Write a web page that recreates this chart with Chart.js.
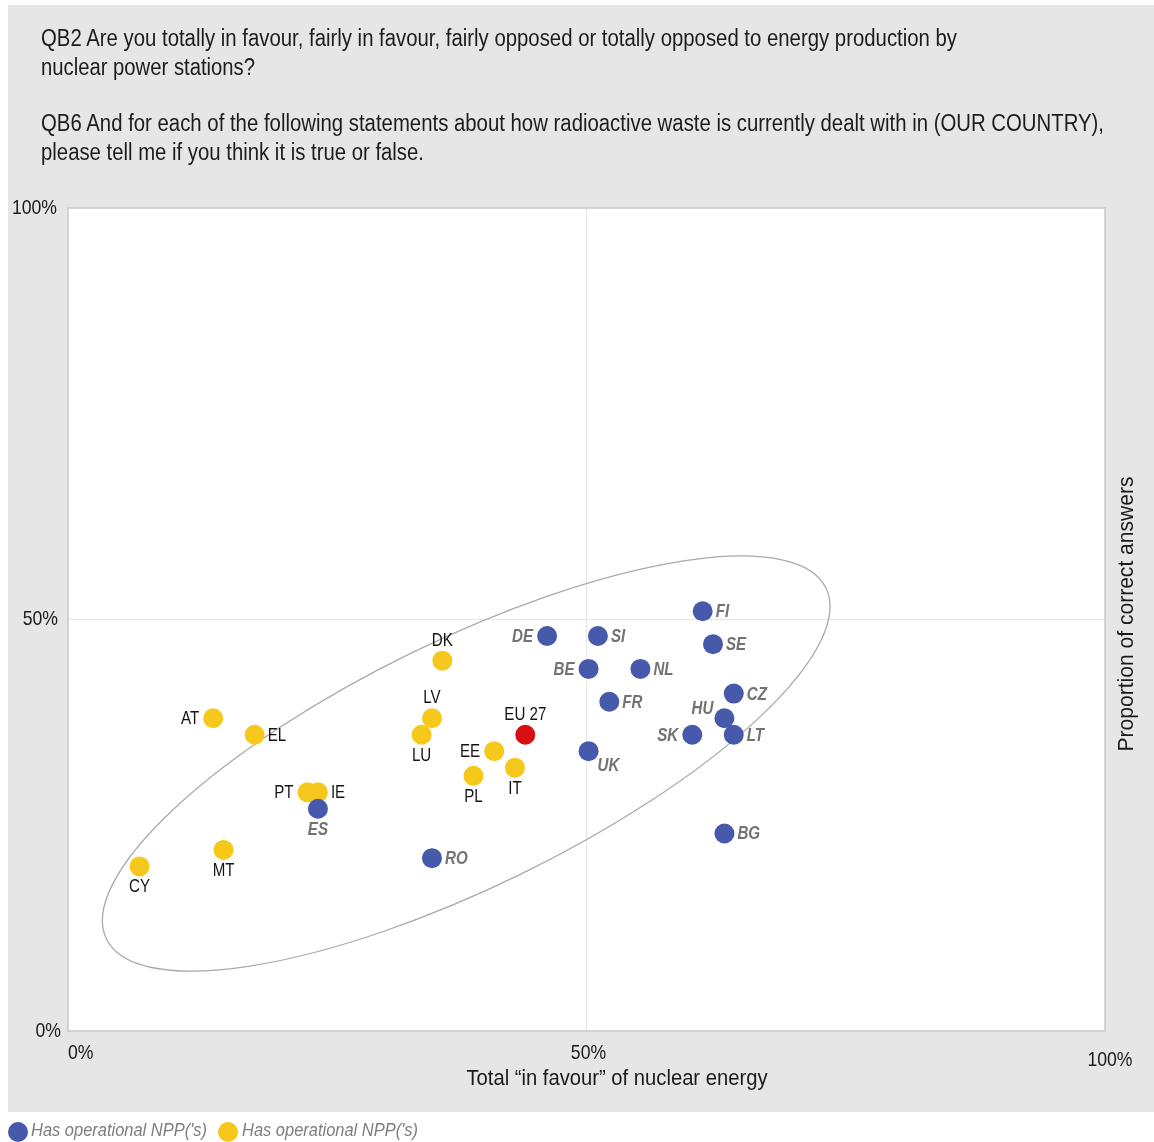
<!DOCTYPE html>
<html>
<head>
<meta charset="utf-8">
<title>Nuclear energy: support vs knowledge</title>
<script src="https://cdn.jsdelivr.net/npm/chart.js@4.4.1/dist/chart.umd.min.js"></script>
<style>
  html, body { margin: 0; padding: 0; background: #fff; }
  body { width: 1154px; height: 1142px; position: relative; overflow: hidden;
         font-family: "Liberation Sans", Arial, sans-serif; }
  #panel { position: absolute; left: 8px; top: 5px; width: 1146px; height: 1107px; background: #e6e6e6; }
  #chart { position: absolute; left: 0; top: 0; }
  .q { position: absolute; left: 41px; font-size: 23px; line-height: 29px; color: #1c1c1c; }
  .q span { display: inline-block; white-space: nowrap; transform-origin: 0 50%; }
  .leg { position: absolute; top: 1119px; height: 24px; }
  .leg i { position: absolute; left: 0; top: 3px; width: 20px; height: 20px; border-radius: 50%; }
  .leg span { position: absolute; top: 0; white-space: nowrap; font-style: italic; font-size: 19px;
              color: #7d7d7d; transform-origin: 0 50%; }
</style>
</head>
<body>
<div id="panel"></div>
<canvas id="chart" width="1154" height="1142"></canvas>

<div class="q" style="top:24px">
  <span data-w="916">QB2 Are you totally in favour, fairly in favour, fairly opposed or totally opposed to energy production by</span><br>
  <span data-w="214">nuclear power stations?</span>
</div>
<div class="q" style="top:109px">
  <span data-w="1063">QB6 And for each of the following statements about how radioactive waste is currently dealt with in (OUR COUNTRY),</span><br>
  <span data-w="383">please tell me if you think it is true or false.</span>
</div>

<div class="leg" style="left:8px"><i style="background:#4659ab"></i><span style="left:23px" data-w="176">Has operational NPP('s)</span></div>
<div class="leg" style="left:218px"><i style="background:#f6c81c"></i><span style="left:24px" data-w="176">Has operational NPP('s)</span></div>

<script>
// ===== DATA =====
// countries with operational nuclear power plants (blue)
const blueCodes   = ['FI', 'SE', 'DE', 'SI', 'BE', 'NL', 'CZ', 'FR', 'HU', 'SK', 'LT', 'UK', 'BG', 'ES', 'RO'];
const blueFavour  = [61.2, 62.2, 46.2, 51.1, 50.2, 55.2, 64.2, 52.2, 63.3, 60.2, 64.2, 50.2, 63.3, 24.1, 35.1];
const blueCorrect = [51, 47, 48, 48, 44, 44, 41, 40, 38, 36, 36, 34, 24, 27, 21];

// other countries (yellow)
const yellowCodes   = ['DK', 'AT', 'EL', 'LV', 'LU', 'EE', 'PL', 'IT', 'PT', 'IE', 'MT', 'CY'];
const yellowFavour  = [36.1, 14.0, 18.0, 35.1, 34.1, 41.1, 39.1, 43.1, 23.1, 24.1, 15.0, 6.9];
const yellowCorrect = [45, 38, 36, 38, 36, 34, 31, 32, 29, 29, 22, 20];

// EU average (red)
const euCodes   = ['EU 27'];
const euFavour  = [44.1];
const euCorrect = [36];

const xTickValues = [0, 50, 100];
const yTickValues = [0, 50, 100];

// =====================================================

// where each label sits next to its dot
const labelSide = {
  FI: 'right', SE: 'right', DE: 'left', SI: 'right', BE: 'left', NL: 'right', CZ: 'right',
  FR: 'right', HU: 'upleft', SK: 'left', LT: 'right', UK: 'downright', BG: 'right',
  ES: 'below', RO: 'right',
  DK: 'above', AT: 'left', EL: 'right', LV: 'above', LU: 'below', EE: 'left', PL: 'below',
  IT: 'below', PT: 'left', IE: 'right', MT: 'below', CY: 'below',
  'EU 27': 'above'
};

// rotated ellipse around the cloud (centre in data units, radii in x-units)
const ELLIPSE = { cx: 38.4, cy: 32.5, rx: 38.6, ry: 11.9, angle: -26.0 };

const FONT = '"Liberation Sans", Arial, sans-serif';
const NARROW = 0.84;

function toPoints(xs, ys, codes) {
  return xs.map((x, i) => ({ x, y: ys[i], code: codes[i] }));
}

// condensed text drawn on the canvas
function drawText(ctx, s, x, y, align, font, color, width) {
  ctx.save();
  ctx.font = font;
  ctx.fillStyle = color;
  ctx.textBaseline = 'middle';
  ctx.textAlign = 'left';
  const raw = ctx.measureText(s).width;
  const sx = width ? width / raw : NARROW;
  const w = raw * sx;
  const left = align === 'left' ? x : align === 'right' ? x - w : x - w / 2;
  ctx.translate(left, y);
  ctx.scale(sx, 1);
  ctx.fillText(s, 0, 0);
  ctx.restore();
}

/* ------------------------------
   BACKGROUND, FRAME, ELLIPSE
--------------------------------*/
const framePlugin = {
  id: 'frame',
  beforeDraw(chart) {
    const { ctx, chartArea: a } = chart;
    ctx.save();
    ctx.fillStyle = '#ffffff';
    ctx.fillRect(a.left, a.top, a.right - a.left, a.bottom - a.top);
    ctx.restore();
  },
  beforeDatasetsDraw(chart) {
    const { ctx, chartArea: a, scales: { x, y } } = chart;
    ctx.save();
    ctx.strokeStyle = '#c9c9c9';
    ctx.lineWidth = 1.5;
    ctx.strokeRect(a.left, a.top, a.right - a.left, a.bottom - a.top);

    const unit = x.getPixelForValue(1) - x.getPixelForValue(0);
    ctx.beginPath();
    ctx.ellipse(
      x.getPixelForValue(ELLIPSE.cx), y.getPixelForValue(ELLIPSE.cy),
      ELLIPSE.rx * unit, ELLIPSE.ry * unit,
      ELLIPSE.angle * Math.PI / 180, 0, Math.PI * 2
    );
    ctx.strokeStyle = '#a9a9a9';
    ctx.lineWidth = 1.3;
    ctx.stroke();
    ctx.restore();
  }
};

/* ------------------------------
   AXIS TEXT + POINT LABELS
--------------------------------*/
const textPlugin = {
  id: 'texts',
  afterDraw(chart) {
    const { ctx, chartArea: a, scales: { x, y } } = chart;
    const tickFont = '21px ' + FONT;

    // y ticks, right aligned to the left of the box
    const yRight = [61, 58, 57];
    yTickValues.forEach((v, i) => {
      drawText(ctx, v + '%', yRight[i], y.getPixelForValue(v), 'right', tickFont, '#1a1a1a');
    });

    // x ticks
    drawText(ctx, xTickValues[0] + '%', a.left, a.bottom + 22, 'left', tickFont, '#1a1a1a');
    drawText(ctx, xTickValues[1] + '%', x.getPixelForValue(xTickValues[1]) + 2, a.bottom + 22, 'center', tickFont, '#1a1a1a');
    drawText(ctx, xTickValues[2] + '%', x.getPixelForValue(xTickValues[2]) + 5, a.bottom + 29, 'center', tickFont, '#1a1a1a');

    // axis titles
    drawText(ctx, 'Total \u201cin favour\u201d of nuclear energy', 617, a.bottom + 48, 'center',
      '22px ' + FONT, '#1a1a1a', 301);
    ctx.save();
    ctx.translate(1127, 614);
    ctx.rotate(-Math.PI / 2);
    drawText(ctx, 'Proportion of correct answers', 0, 0, 'center', '22px ' + FONT, '#1a1a1a', 275);
    ctx.restore();

    // point labels
    chart.data.datasets.forEach((ds, di) => {
      const meta = chart.getDatasetMeta(di);
      const italic = ds.labelStyle === 'italic';
      const font = (italic ? 'italic bold 18px ' : '18px ') + FONT;
      const color = italic ? '#727272' : '#141414';
      meta.data.forEach((el, i) => {
        const code = ds.data[i].code;
        const px = el.x, py = el.y;
        switch (labelSide[code]) {
          case 'right':     drawText(ctx, code, px + 13, py + 1, 'left', font, color); break;
          case 'left':      drawText(ctx, code, px - 14, py + 1, 'right', font, color); break;
          case 'above':     drawText(ctx, code, px, py - 20, 'center', font, color); break;
          case 'below':     drawText(ctx, code, px, py + 21, 'center', font, color); break;
          case 'upleft':    drawText(ctx, code, px - 11, py - 9, 'right', font, color); break;
          case 'downright': drawText(ctx, code, px + 9, py + 15, 'left', font, color); break;
        }
      });
    });
  }
};

const hiddenAxis = (fitKey) => ({
  type: 'linear',
  min: 0,
  max: 100,
  ticks: { display: false, stepSize: 50 },
  border: { display: false },
  grid: {
    drawTicks: false,
    lineWidth: 1,
    color: c => (c.tick && c.tick.value === 50) ? '#e6e6e6' : 'rgba(0,0,0,0)'
  },
  afterFit: s => { s[fitKey] = 0; }
});

new Chart(document.getElementById('chart').getContext('2d'), {
  type: 'scatter',
  data: {
    datasets: [
      {
        label: "Has operational NPP('s)",
        data: toPoints(blueFavour, blueCorrect, blueCodes),
        backgroundColor: '#4659ab',
        labelStyle: 'italic'
      },
      {
        label: "Has operational NPP('s)",
        data: toPoints(yellowFavour, yellowCorrect, yellowCodes),
        backgroundColor: '#f6c81c',
        labelStyle: 'normal'
      },
      {
        label: 'EU 27',
        data: toPoints(euFavour, euCorrect, euCodes),
        backgroundColor: '#d80f12',
        labelStyle: 'normal'
      }
    ]
  },
  options: {
    responsive: false,
    animation: false,
    events: [],
    layout: { padding: { left: 68, top: 208, right: 49, bottom: 111 } },
    elements: { point: { radius: 10, hoverRadius: 10, borderWidth: 0 } },
    plugins: { legend: { display: false }, tooltip: { enabled: false }, title: { display: false } },
    scales: {
      x: hiddenAxis('height'),
      y: hiddenAxis('width')
    }
  },
  plugins: [framePlugin, textPlugin]
});

// squeeze HTML text lines to the widths of the original
document.querySelectorAll('[data-w]').forEach(el => {
  const w = el.getBoundingClientRect().width;
  if (w > 0) el.style.transform = 'scaleX(' + (Number(el.dataset.w) / w) + ')';
});
</script>
</body>
</html>
